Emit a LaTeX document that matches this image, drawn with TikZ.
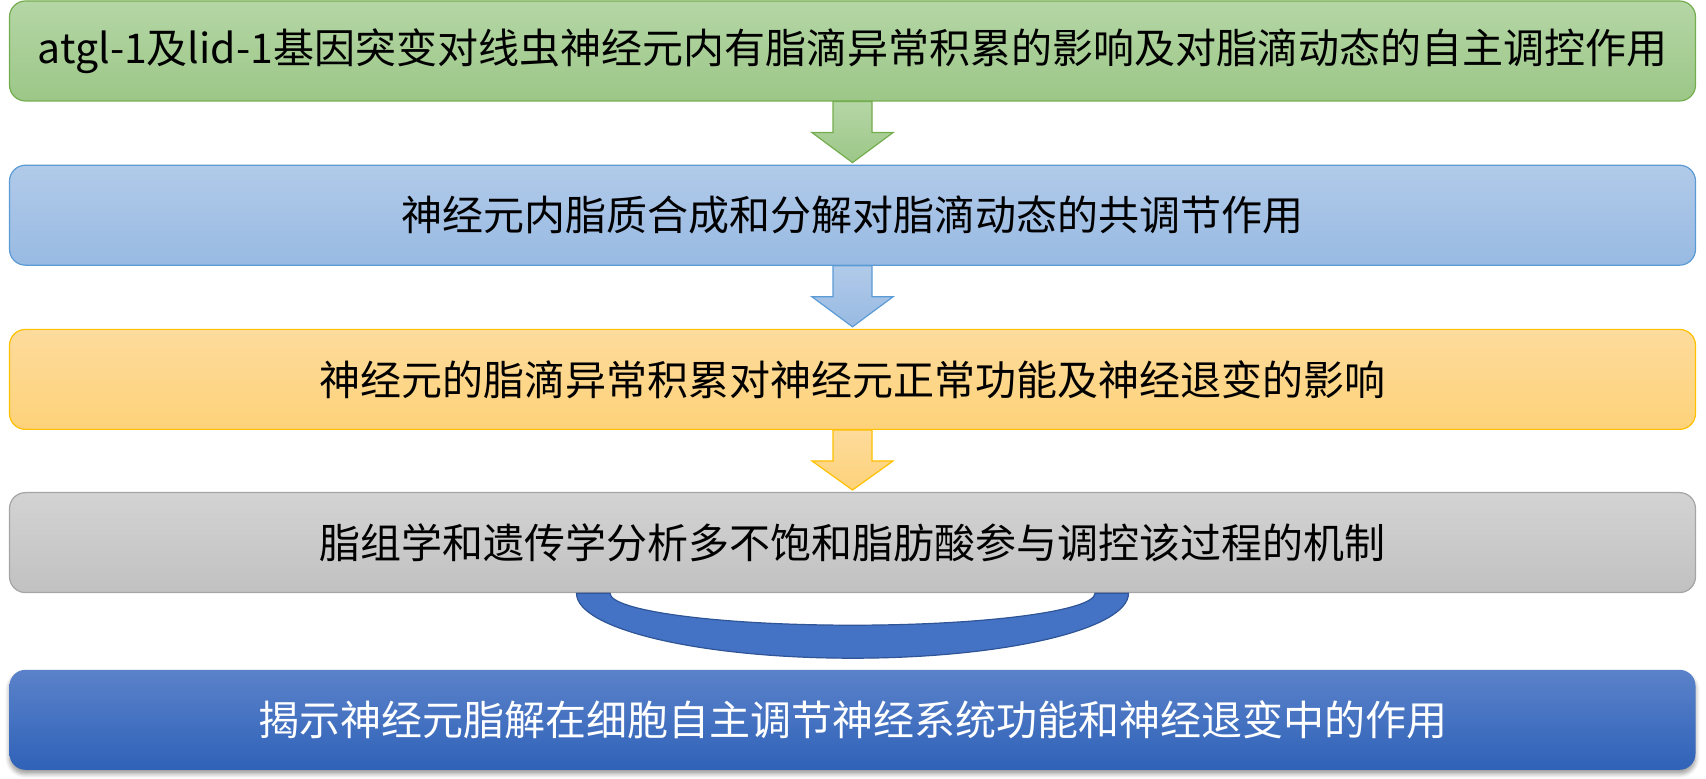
\documentclass[tikz,border=0pt]{standalone}
\usepackage{fontspec}
\setmainfont{Noto Sans CJK SC}
\usetikzlibrary{positioning,calc,shadows.blur}

\definecolor{g1}{HTML}{B5D6A5}
\definecolor{g2}{HTML}{9CC788}
\definecolor{g3}{HTML}{74AD4E}
\definecolor{bl1}{HTML}{B1CAE9}
\definecolor{bl2}{HTML}{98BAE2}
\definecolor{bl3}{HTML}{5B9BD5}
\definecolor{y1}{HTML}{FDDB9C}
\definecolor{y2}{HTML}{FDD279}
\definecolor{y3}{HTML}{FFC000}
\definecolor{k1}{HTML}{D3D3D3}
\definecolor{k2}{HTML}{C1C1C1}
\definecolor{k3}{HTML}{A5A5A5}
\definecolor{d1}{HTML}{5B82CA}
\definecolor{d2}{HTML}{4472C4}
\definecolor{d3}{HTML}{2F62B8}
\definecolor{bandline}{HTML}{2F5597}

\tikzset{
	stagebox/.style={rounded corners=8pt, line width=0.6pt, minimum width=843pt,
		minimum height=50pt, inner sep=0pt, font=\fontsize{20.5}{24}\selectfont},
}

\begin{document}
\begin{tikzpicture}
	\useasboundingbox (0,0) rectangle (853pt,-389.5pt);
	% stages
	\node[stagebox, draw=g3, top color=g1, bottom color=g2] (s1) at (426.25pt,-25.5pt)
		{atgl-1及lid-1基因突变对线虫神经元内有脂滴异常积累的影响及对脂滴动态的自主调控作用};
	\node[stagebox, draw=bl3, top color=bl1, bottom color=bl2, below=31.5pt of s1] (s2)
		{神经元内脂质合成和分解对脂滴动态的共调节作用};
	\node[stagebox, draw=y3, top color=y1, bottom color=y2, below=31.5pt of s2] (s3)
		{神经元的脂滴异常积累对神经元正常功能及神经退变的影响};
	\node[stagebox, draw=k3, top color=k1, bottom color=k2, below=31pt of s3] (s4)
		{脂组学和遗传学分析多不饱和脂肪酸参与调控该过程的机制};
	\node[stagebox, top color=d1, middle color=d2, bottom color=d3, text=white,
		blur shadow={shadow xshift=0pt, shadow yshift=-2pt, shadow blur steps=6},
		below=38pt of s4] (s5)
		{揭示神经元脂解在细胞自主调节神经系统功能和神经退变中的作用};
	% block arrows
	\foreach \a/\b/\c in {s1/s2/g, s2/s3/bl, s3/s4/y}{
		\draw[line width=0.6pt, draw=\c3, top color=\c1, bottom color=\c2]
			($(\a.south)+(-9.75pt,0)$) -- ($(\a.south)+(9.75pt,0)$)
			-- ($(\a.south)+(9.75pt,-15.5pt)$) -- ($(\a.south)+(20.25pt,-15.5pt)$)
			-- ($(\b.north)+(0,1pt)$)
			-- ($(\a.south)+(-20.25pt,-15.5pt)$) -- ($(\a.south)+(-9.75pt,-15.5pt)$) -- cycle;
	}
	% band under last step
	\draw[fill=d2, draw=bandline, line width=0.6pt]
		($(s4.south)+(-138pt,0)$) arc[start angle=180, end angle=360, x radius=138pt, y radius=32.5pt]
		-- ($(s4.south)+(121.25pt,0)$) arc[start angle=0, end angle=-180, x radius=121.25pt, y radius=16pt]
		-- cycle;
\end{tikzpicture}
\end{document}
